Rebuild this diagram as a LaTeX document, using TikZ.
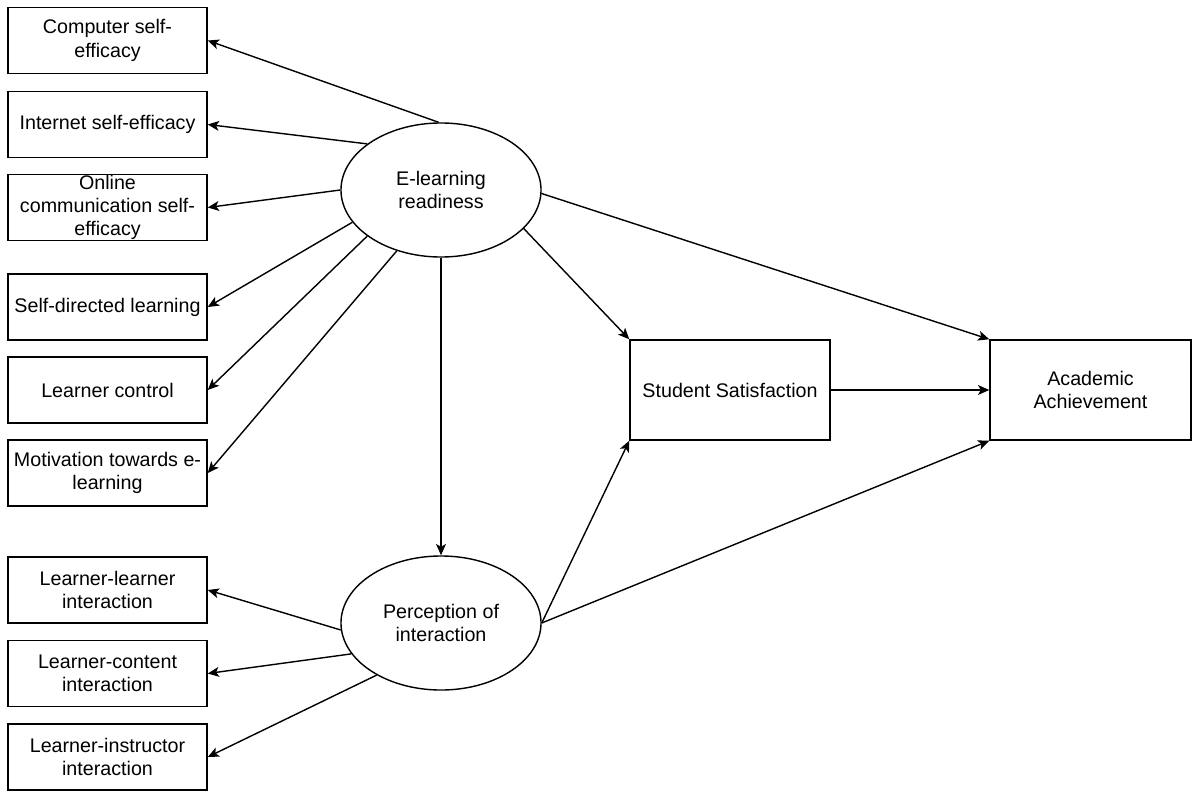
\documentclass[tikz,border=0pt]{standalone}
\usepackage{fontspec}
\setmainfont{Liberation Sans}
\usetikzlibrary{shapes.geometric, arrows.meta}

\begin{document}
\begin{tikzpicture}[x=0.025cm, y=-0.025cm,
    every node/.style={font=\fontsize{14}{16.5}\selectfont, align=center},
    box/.style={draw, line width=1pt, minimum width=4.975cm, minimum height=1.65cm, inner sep=0pt},
    latent/.style={draw, ellipse, line width=1pt, minimum width=5cm, minimum height=3.35cm, inner sep=0pt},
    arr/.style={-{Stealth[length=8pt,width=7pt,inset=2pt]}, line width=1pt}]
\useasboundingbox (0,0) rectangle (1200,800);

\node[box] (cse) at (107.5,40.5) {Computer self-\\efficacy};
\node[box] (ise) at (107.5,124.5) {Internet self-efficacy};
\node[box] (oce) at (107.5,207.5) {Online\\communication self-\\efficacy};
\node[box] (sdl) at (107.5,307) {Self-directed learning};
\node[box] (lc) at (107.5,390) {Learner control};
\node[box] (mot) at (107.5,473) {Motivation towards e-\\learning};
\node[box] (lli) at (107.5,590) {Learner-learner\\interaction};
\node[box] (lci) at (107.5,673.5) {Learner-content\\interaction};
\node[box] (lii) at (107.5,757) {Learner-instructor\\interaction};

\node[latent] (elr) at (441,190) {E-learning\\readiness};
\node[latent] (poi) at (441,623) {Perception of\\interaction};

\node[box, minimum width=5cm, minimum height=2.5cm] (ss) at (730,390) {Student Satisfaction};
\node[box, minimum width=5.025cm, minimum height=2.5cm] (aa) at (1090.5,390) {Academic\\Achievement};

\draw[arr] (elr.92) -- (cse.east);
\draw[arr] (elr.148) -- (ise.east);
\draw[arr] (elr.west) -- (oce.east);
\draw[arr] (elr.200) -- (sdl.east);
\draw[arr] (elr.212) -- (lc.east);
\draw[arr] (elr.234) -- (mot.east);
\draw[arr] (elr.south) -- (poi.north);
\draw[arr] (elr.335) -- (ss.north west);
\draw[arr] (elr.358) -- (aa.north west);

\draw[arr] (poi.184) -- (lli.east);
\draw[arr] (poi.199) -- (lci.east);
\draw[arr] (poi.219) -- (lii.east);
\draw[arr] (poi.east) -- (ss.south west);
\draw[arr] (poi.east) -- (aa.south west);

\draw[arr] (ss.east) -- (aa.west);
\end{tikzpicture}
\end{document}
